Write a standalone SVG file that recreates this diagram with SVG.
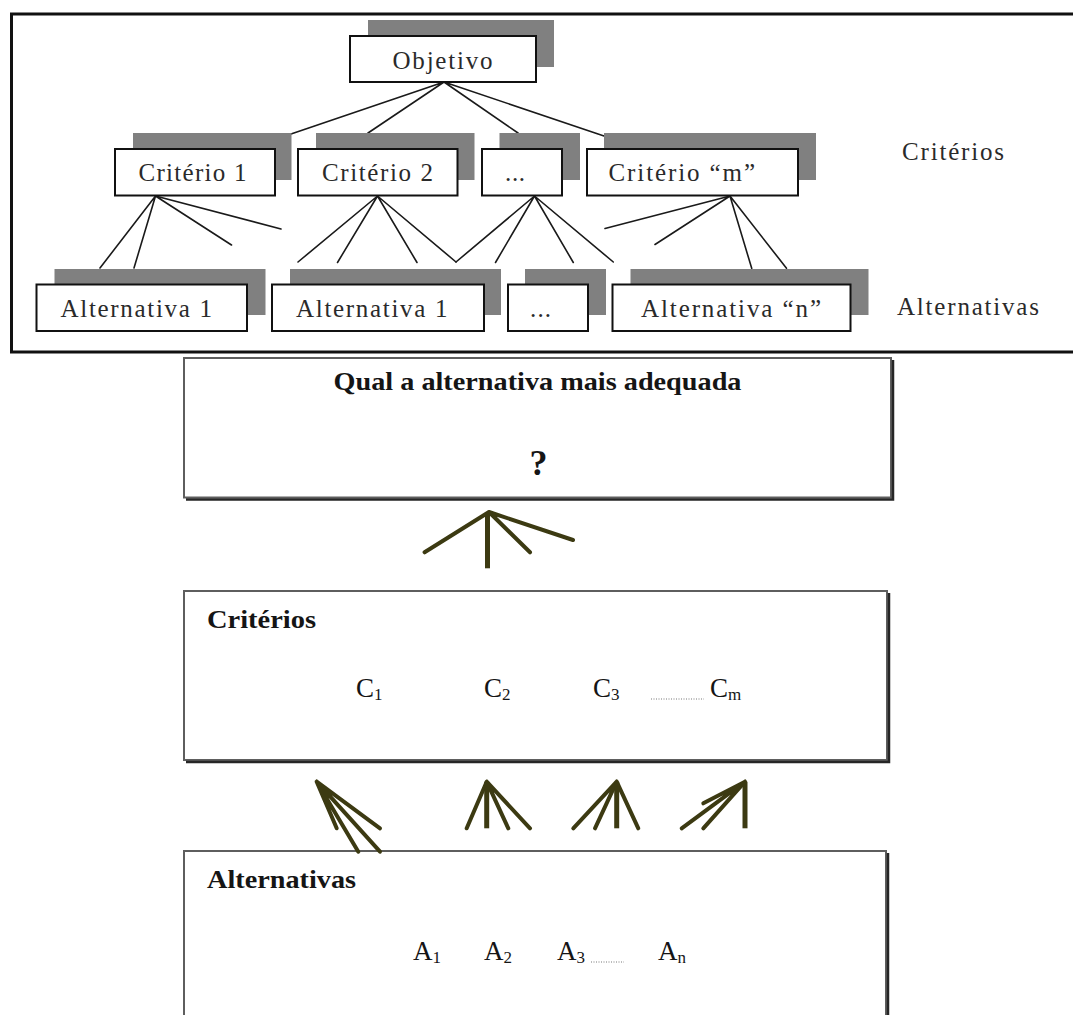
<svg xmlns="http://www.w3.org/2000/svg" width="1073" height="1015" viewBox="0 0 1073 1015">
  <style>
    .shadow { fill: #808080; }
    .box { fill: #ffffff; stroke: #111111; stroke-width: 2; }
    .lbl { font-family: "Liberation Serif", "Times New Roman", serif; font-size: 25px; fill: #2a2a2a; }
    .link { stroke: #1a1a1a; stroke-width: 1.6; fill: none; stroke-linecap: round; }
    .panel { fill: #ffffff; stroke: #5e5e5e; stroke-width: 2; }
    .panel-edge { fill: none; stroke: #262626; stroke-width: 2.5; }
    .bold { font-family: "Liberation Serif", "Times New Roman", serif; font-weight: bold; font-size: 25px; fill: #151515; }
    .sym { font-family: "Liberation Serif", "Times New Roman", serif; font-size: 27px; fill: #151515; }
    .sub { font-size: 17px; }
    .dots { stroke: #777777; stroke-width: 1; stroke-dasharray: 1 1.5; }
    .fan { stroke: #3c3a12; stroke-width: 4; stroke-linecap: round; fill: none; }
    .fan-v { stroke: #3c3a12; stroke-width: 5; fill: none; }
  </style>

  <rect width="1073" height="1015" fill="#ffffff"/>

  <!-- hierarchy frame (open on the right) -->
  <path d="M1080,14 H11.5 V352 H1080" fill="none" stroke="#111111" stroke-width="3"/>

  <!-- hierarchy links -->
  <g id="links">
    <path class="link" d="M444,82 L291,134 M444,82 L368,133 M444,82 L518,133 M444,82 L604,136"/>
    <path class="link" d="M155.5,196 L100,268 M155.5,196 L134,268 M155.5,196 L231.5,245 M155.5,196 L281,229"/>
    <path class="link" d="M377.5,196 L298,262 M377.5,196 L337.5,262.5 M377.5,196 L417,262.5 M377.5,196 L456,262"/>
    <path class="link" d="M534.5,196 L456,262 M534.5,196 L495.5,262.5 M534.5,196 L573.3,262.5 M534.5,196 L613.3,262"/>
    <path class="link" d="M730,196 L605,228.5 M730,196 L655,244.5 M730,196 L751.7,268.3 M730,196 L786.5,268.3"/>
  </g>

  <!-- goal -->
  <g id="objetivo">
    <rect class="shadow" x="368" y="20" width="186" height="47"/>
    <rect class="box" x="350" y="36" width="186" height="46"/>
    <text class="lbl" x="392.5" y="69" textLength="100" lengthAdjust="spacing">Objetivo</text>
  </g>

  <!-- criteria row -->
  <g id="criterio-1">
    <rect class="shadow" x="133" y="133" width="158.5" height="47"/>
    <rect class="box" x="115" y="149" width="160" height="46.5"/>
    <text class="lbl" x="138.5" y="181" textLength="108" lengthAdjust="spacing">Critério 1</text>
  </g>
  <g id="criterio-2">
    <rect class="shadow" x="316" y="133" width="158.5" height="47"/>
    <rect class="box" x="298" y="149" width="159.5" height="46.5"/>
    <text class="lbl" x="322" y="181" textLength="111" lengthAdjust="spacing">Critério 2</text>
  </g>
  <g id="criterio-etc">
    <rect class="shadow" x="499.5" y="133" width="80.5" height="47"/>
    <rect class="box" x="482" y="149" width="80" height="46.5"/>
    <text class="lbl" x="505" y="181" textLength="20" lengthAdjust="spacing">...</text>
  </g>
  <g id="criterio-m">
    <rect class="shadow" x="604" y="133" width="212" height="47"/>
    <rect class="box" x="587" y="149" width="211" height="46.5"/>
    <text class="lbl" x="608.5" y="181" textLength="146.5" lengthAdjust="spacing">Critério “m”</text>
  </g>

  <!-- alternatives row -->
  <g id="alternativa-1a">
    <rect class="shadow" x="54.5" y="269" width="211" height="46"/>
    <rect class="box" x="36.5" y="284.5" width="210.5" height="46.5"/>
    <text class="lbl" x="60.5" y="317" textLength="151.5" lengthAdjust="spacing">Alternativa 1</text>
  </g>
  <g id="alternativa-1b">
    <rect class="shadow" x="290" y="269" width="211" height="46"/>
    <rect class="box" x="272" y="284.5" width="212" height="46.5"/>
    <text class="lbl" x="296" y="317" textLength="151.5" lengthAdjust="spacing">Alternativa 1</text>
  </g>
  <g id="alternativa-etc">
    <rect class="shadow" x="525" y="269" width="81" height="46"/>
    <rect class="box" x="508" y="284.5" width="80" height="46.5"/>
    <text class="lbl" x="530" y="317" textLength="21" lengthAdjust="spacing">...</text>
  </g>
  <g id="alternativa-n">
    <rect class="shadow" x="630.5" y="269" width="238" height="46"/>
    <rect class="box" x="612.5" y="284.5" width="238" height="46.5"/>
    <text class="lbl" x="641" y="317" textLength="180" lengthAdjust="spacing">Alternativa “n”</text>
  </g>

  <!-- level captions -->
  <g id="nivel-criterios">
    <text class="lbl" x="902" y="160" textLength="102" lengthAdjust="spacing">Critérios</text>
  </g>
  <g id="nivel-alternativas">
    <text class="lbl" x="897" y="315" textLength="142" lengthAdjust="spacing">Alternativas</text>
  </g>

  <!-- question panel -->
  <g id="pergunta">
    <rect class="panel" x="184" y="358" width="707" height="139.5"/>
    <path class="panel-edge" d="M893,360 V499.5 H186"/>
    <text class="bold" x="537.5" y="390" text-anchor="middle" textLength="408" lengthAdjust="spacingAndGlyphs">Qual a alternativa mais adequada</text>
    <text class="bold" x="538.5" y="475" text-anchor="middle" style="font-size:36px">?</text>
  </g>

  <!-- criteria panel -->
  <g id="criterios">
    <rect class="panel" x="184" y="591" width="703" height="169"/>
    <path class="panel-edge" d="M889,593 V762 H186"/>
    <text class="bold" x="207" y="628" textLength="109" lengthAdjust="spacingAndGlyphs">Critérios</text>
    <text class="sym" x="356" y="697">C<tspan class="sub" dy="3">1</tspan></text>
    <text class="sym" x="484" y="697">C<tspan class="sub" dy="3">2</tspan></text>
    <text class="sym" x="593" y="697">C<tspan class="sub" dy="3">3</tspan></text>
    <line class="dots" x1="651" y1="699" x2="704" y2="699"/>
    <text class="sym" x="710" y="697">C<tspan class="sub" dy="3">m</tspan></text>
  </g>

  <!-- alternatives panel -->
  <g id="alternativas">
    <path class="panel" d="M184,1020 V851 H886 V1020"/>
    <path class="panel-edge" d="M888,853 V1020"/>
    <text class="bold" x="207" y="888" textLength="149" lengthAdjust="spacingAndGlyphs">Alternativas</text>
    <text class="sym" x="413" y="960">A<tspan class="sub" dy="3">1</tspan></text>
    <text class="sym" x="484" y="960">A<tspan class="sub" dy="3">2</tspan></text>
    <text class="sym" x="557" y="960">A<tspan class="sub" dy="3">3</tspan></text>
    <line class="dots" x1="591" y1="962" x2="624" y2="962"/>
    <text class="sym" x="658" y="960">A<tspan class="sub" dy="3">n</tspan></text>
  </g>

  <!-- aggregation fans between panels -->
  <g id="fans">
    <path class="fan" d="M489,512 L424.6,552.3 M489,512 L530,552.3 M489,512 L573,540"/>
    <path class="fan-v" d="M487.5,512 V568.3"/>

    <path class="fan" d="M316.7,781.7 L336.7,828.3 M316.7,781.7 L358.3,851.7 M316.7,781.7 L380,851.7 M316.7,781.7 L380,828.3"/>

    <path class="fan" d="M486.7,781.7 L466.7,828.3 M486.7,781.7 L508.3,828.3 M486.7,781.7 L530,828.3"/>
    <path class="fan-v" d="M486.7,781.7 V828.3"/>

    <path class="fan" d="M616.7,781.7 L573.3,828.3 M616.7,781.7 L595,828.3 M616.7,781.7 L638.3,828.3"/>
    <path class="fan-v" d="M616.7,781.7 V828.3"/>

    <path class="fan" d="M745,781.7 L681.7,828.3 M745,781.7 L703.3,828.3 M745,781.7 L703.3,803.3"/>
    <path class="fan-v" d="M745,781.7 V828.3"/>
  </g>
</svg>
